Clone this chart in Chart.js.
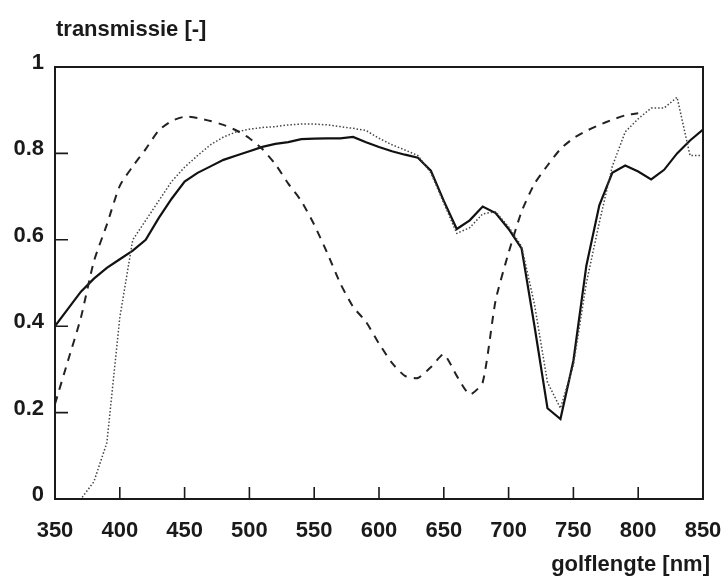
<!DOCTYPE html>
<html>
<head>
<meta charset="utf-8">
<script src="https://cdn.jsdelivr.net/npm/chart.js@4.4.1/dist/chart.umd.min.js"></script>
<style>
  html, body { margin: 0; padding: 0; background: #fff; }
  #wrap { width: 726px; height: 582px; position: relative; }
</style>
</head>
<body>
<div id="wrap"><canvas id="chart" width="726" height="582"></canvas></div>
<script>
// golflengte in nm
const wavelengths = [350, 360, 370, 380, 390, 400, 410, 420, 430, 440,
                     450, 460, 470, 480, 490, 500, 510, 520, 530, 540,
                     550, 560, 570, 580, 590, 600, 610, 620, 630, 640,
                     650, 660, 670, 680, 690, 700, 710, 720, 730, 740,
                     750, 760, 770, 780, 790, 800, 810, 820, 830, 840, 850];

// doorgetrokken lijn
const solidValues = [0.40, 0.44, 0.48, 0.51, 0.535, 0.555, 0.575, 0.60, 0.65, 0.695,
                     0.735, 0.755, 0.77, 0.785, 0.795, 0.805, 0.815, 0.822, 0.826, 0.833,
                     0.834, 0.835, 0.835, 0.838, 0.826, 0.815, 0.805, 0.797, 0.79, 0.76,
                     0.69, 0.625, 0.645, 0.677, 0.662, 0.625, 0.58, 0.40, 0.21, 0.185,
                     0.32, 0.54, 0.68, 0.755, 0.772, 0.758, 0.74, 0.762, 0.80, 0.83, 0.855];

// gestippelde lijn
const dottedValues = [0, 0, 0, 0.04, 0.13, 0.42, 0.60, 0.645, 0.69, 0.735,
                      0.768, 0.795, 0.82, 0.838, 0.85, 0.856, 0.86, 0.862, 0.866, 0.868,
                      0.868, 0.866, 0.862, 0.858, 0.853, 0.835, 0.82, 0.808, 0.795, 0.755,
                      0.685, 0.615, 0.628, 0.66, 0.665, 0.63, 0.585, 0.45, 0.27, 0.21,
                      0.31, 0.50, 0.64, 0.77, 0.85, 0.88, 0.905, 0.905, 0.93, 0.795, 0.795];

// gestreepte lijn (tot 800 nm)
const dashedValues = [0.22, 0.32, 0.42, 0.55, 0.635, 0.725, 0.77, 0.81, 0.853, 0.875,
                      0.885, 0.882, 0.875, 0.866, 0.853, 0.835, 0.81, 0.775, 0.73, 0.69,
                      0.635, 0.57, 0.50, 0.445, 0.41, 0.36, 0.315, 0.285, 0.28, 0.305,
                      0.335, 0.285, 0.242, 0.27, 0.46, 0.57, 0.665, 0.73, 0.772, 0.81,
                      0.835, 0.852, 0.866, 0.878, 0.888, 0.893];

const xTicks = [350, 400, 450, 500, 550, 600, 650, 700, 750, 800, 850];
const yTicks = [0, 0.2, 0.4, 0.6, 0.8, 1];

const yTitle = 'transmissie [-]';
const xTitle = 'golflengte [nm]';

const FONT = '"Liberation Sans", Arial, sans-serif';
const INK = '#1a1a1a';

function toPoints(values) {
    return values.map((v, i) => ({ x: wavelengths[i], y: v }));
}

// kader, naar binnen gerichte streepjes en de astitels
const framePlugin = {
    id: 'frame',
    afterDraw(chart) {
        const { ctx, chartArea: a, scales } = chart;
        ctx.save();
        ctx.strokeStyle = INK;
        ctx.lineWidth = 2;
        ctx.strokeRect(a.left, a.top, a.right - a.left, a.bottom - a.top);

        ctx.lineWidth = 1.6;
        ctx.beginPath();
        xTicks.slice(1, -1).forEach(v => {
            const px = scales.x.getPixelForValue(v);
            ctx.moveTo(px, a.bottom);
            ctx.lineTo(px, a.bottom - 12);
        });
        yTicks.slice(1, -1).forEach(v => {
            const py = scales.y.getPixelForValue(v);
            ctx.moveTo(a.left, py);
            ctx.lineTo(a.left + 13, py);
        });
        ctx.stroke();

        ctx.fillStyle = INK;
        ctx.font = 'bold 22px ' + FONT;
        ctx.textBaseline = 'middle';
        ctx.textAlign = 'left';
        ctx.fillText(yTitle, 56, 30);
        ctx.textAlign = 'right';
        ctx.fillText(xTitle, 710, 565);
        ctx.restore();
    }
};

const ctx = document.getElementById('chart').getContext('2d');
new Chart(ctx, {
    type: 'line',
    data: {
        datasets: [
            {
                label: 'dashed',
                data: toPoints(dashedValues),
                borderColor: '#222',
                borderWidth: 2,
                borderDash: [8, 7],
                pointRadius: 0,
                tension: 0.2
            },
            {
                label: 'dotted',
                data: toPoints(dottedValues),
                borderColor: '#444',
                borderWidth: 1.5,
                borderDash: [1.5, 2],
                pointRadius: 0,
                tension: 0
            },
            {
                label: 'solid',
                data: toPoints(solidValues),
                borderColor: '#111',
                borderWidth: 2.2,
                pointRadius: 0,
                tension: 0
            }
        ]
    },
    options: {
        responsive: false,
        animation: false,
        layout: { padding: { top: 67, right: 23, left: 0, bottom: 0 } },
        plugins: {
            legend: { display: false },
            tooltip: { enabled: false }
        },
        scales: {
            x: {
                type: 'linear',
                min: 350,
                max: 850,
                afterBuildTicks(scale) {
                    scale.ticks = xTicks.map(v => ({ value: v }));
                },
                afterFit(scale) {
                    scale.height = 83;
                    scale.paddingLeft = 0;
                    scale.paddingRight = 0;
                },
                grid: { display: false, drawTicks: false },
                border: { display: false },
                ticks: {
                    padding: 19,
                    color: INK,
                    font: { family: FONT, size: 22, weight: 'bold' }
                }
            },
            y: {
                min: 0,
                max: 1,
                afterBuildTicks(scale) {
                    scale.ticks = yTicks.map(v => ({ value: v }));
                },
                afterFit(scale) {
                    scale.width = 55;
                    scale.paddingTop = 0;
                    scale.paddingBottom = 0;
                },
                grid: { display: false, drawTicks: false },
                border: { display: false },
                ticks: {
                    padding: 11,
                    labelOffset: -4,
                    color: INK,
                    font: { family: FONT, size: 22, weight: 'bold' },
                    callback: v => String(v)
                }
            }
        }
    },
    plugins: [framePlugin]
});
</script>
</body>
</html>
